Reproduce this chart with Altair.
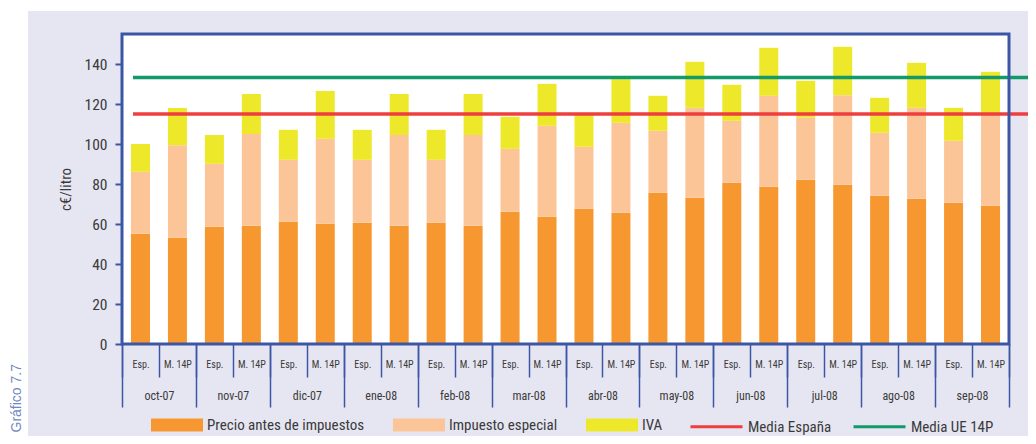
import altair as alt
import pandas as pd

# ---------------- data ----------------
meses = ["oct-07", "nov-07", "dic-07", "ene-08", "feb-08", "mar-08",
         "abr-08", "may-08", "jun-08", "jul-08", "ago-08", "sep-08"]
tipos = ["Esp.", "M. 14P"]

# segment heights (c€/litro), order: oct Esp, oct M14P, nov Esp, ...
precio = [55.1, 53.1, 58.6, 59.1, 61.1, 60.1, 60.6, 59.1, 60.6, 59.1, 66.1, 63.6,
          67.6, 65.6, 75.6, 73.1, 80.6, 78.6, 82.1, 79.6, 74.1, 72.6, 70.6, 69.1]
impuesto = [31.0, 46.3, 31.5, 45.9, 31.0, 42.5, 31.5, 45.4, 31.5, 45.4, 31.5, 45.5,
            31.0, 45.0, 31.0, 45.0, 31.0, 45.5, 31.1, 44.8, 31.5, 45.5, 31.0, 45.5]
iva = [13.9, 18.6, 14.4, 20.0, 15.0, 23.9, 15.0, 20.5, 15.0, 20.5, 16.0, 21.0,
       15.9, 21.8, 17.5, 23.0, 18.0, 24.0, 18.4, 24.2, 17.5, 22.5, 16.5, 21.5]

componentes = ["Precio antes de impuestos", "Impuesto especial", "IVA"]
colores_comp = ["#F7972F", "#FCC597", "#EEE82B"]

series = ["Media España", "Media UE 14P"]
medias = [115.0, 133.2]
colores_series = ["#EF3E3E", "#13996A"]

y_ticks = [0, 20, 40, 60, 80, 100, 120, 140]

# ---------------- styling ----------------
FONT = "Liberation Sans Narrow, Roboto Condensed, DejaVu Sans Condensed, sans-serif"
BLUE = "#3C56A6"
GRID = "#4A65B6"
LAV = "#E6E6F2"
TXT = "#3A3A3A"
W, H = 887, 310

# ---------------- tables ----------------
cats = [f"{m}|{t}" for m in meses for t in tipos]
rows = []
for i, c in enumerate(cats):
    for k, (comp, vals) in enumerate(zip(componentes, [precio, impuesto, iva])):
        rows.append({"cat": c, "componente": comp, "valor": vals[i], "ord": k})
df = pd.DataFrame(rows)
one = pd.DataFrame({"d": [0]})

yscale = alt.Scale(domain=[0, 155], nice=False, zero=True)
yaxis = alt.Axis(values=y_ticks, grid=False, domain=False, ticks=True,
                 tickSize=7, tickColor=BLUE, tickWidth=2,
                 labelFont=FONT, labelFontSize=15.5, labelColor=TXT,
                 labelPadding=8, title="c€/litro", titleFont=FONT,
                 titleFontSize=15, titleColor=TXT,
                 titleFontWeight="normal", titleX=-57, titleY=155,
                 titleAngle=270, titleAlign="center",
                 titleBaseline="middle", zindex=1)

bg = alt.Chart(one).mark_rect(color=LAV).encode(
    x=alt.value(-94), x2=alt.value(W + 19), y=alt.value(-23), y2=alt.value(H + 92))
plotbg = alt.Chart(one).mark_rect(color="white").encode(
    x=alt.value(0), x2=alt.value(W), y=alt.value(0), y2=alt.value(H))

grid = alt.Chart(pd.DataFrame({"valor": y_ticks[1:]})).mark_rule(
    color=GRID, strokeWidth=1.2).encode(
    y=alt.Y("valor:Q", scale=yscale, axis=yaxis))

legend_common = dict(orient="none", legendY=365, direction="horizontal",
                     title=None, labelFont=FONT, labelFontSize=15,
                     labelColor=TXT, labelOffset=4, labelLimit=0,
                     padding=0, zindex=1)

bars = alt.Chart(df).mark_bar(size=19).encode(
    x=alt.X("cat:N", sort=cats,
            scale=alt.Scale(paddingInner=0, paddingOuter=0),
            axis=alt.Axis(orient="bottom", title=None,
                          labelExpr="split(datum.label, '|')[1]",
                          labelAngle=0, domain=False, ticks=True,
                          tickBand="extent", tickSize=33, tickColor=BLUE,
                          tickWidth=1.5, labelFont=FONT, labelFontSize=10,
                          labelColor=TXT, labelPadding=-12.5,
                          labelBaseline="middle", labelOverlap=False, zindex=1)),
    y=alt.Y("valor:Q", stack="zero", scale=yscale, axis=yaxis),
    color=alt.Color("componente:N",
                    scale=alt.Scale(domain=componentes, range=colores_comp),
                    legend=alt.Legend(legendX=29, columnPadding=28,
                                      symbolType="M-1,-0.25H1V0.25H-1Z",
                                      symbolSize=2704, symbolStrokeWidth=0,
                                      **legend_common)),
    order=alt.Order("ord:Q"))

lines = alt.Chart(pd.DataFrame({"serie": series, "valor": medias})).mark_rule(
    strokeWidth=3.5).encode(
    y=alt.Y("valor:Q", scale=yscale, axis=yaxis),
    x=alt.value(11), x2=alt.value(W + 19),
    stroke=alt.Stroke("serie:N",
                      scale=alt.Scale(domain=series, range=colores_series),
                      legend=alt.Legend(legendX=567, columnPadding=15,
                                        symbolType="stroke", symbolSize=2704,
                                        symbolStrokeWidth=3,
                                        **legend_common)))

border = alt.Chart(one).mark_rect(fillOpacity=0, stroke=BLUE, strokeWidth=3).encode(
    x=alt.value(0), x2=alt.value(W), y=alt.value(0), y2=alt.value(H))

month_axis = alt.Chart(pd.DataFrame({"mes": meses})).mark_point(opacity=0).encode(
    x=alt.X("mes:N", sort=meses,
            scale=alt.Scale(paddingInner=0, paddingOuter=0),
            axis=alt.Axis(orient="bottom", title=None, labelAngle=0,
                          domain=False, ticks=True, tickBand="extent",
                          tickSize=63, tickColor=BLUE, tickWidth=1.5,
                          labelFont=FONT, labelFontSize=12, labelColor=TXT,
                          labelPadding=-11.5, labelBaseline="middle",
                          labelOverlap=False, zindex=1)),
    y=alt.value(0))

note = alt.Chart(one).mark_text(
    text="Gráfico 7.7", angle=270, align="right", baseline="middle",
    font="Liberation Sans, Arial, sans-serif", fontSize=14, color="#7088BF").encode(
    x=alt.value(-105), y=alt.value(330))

chart = alt.layer(grid, bg, plotbg, bars, lines, border, month_axis, note).resolve_scale(
    x="independent"
).properties(
    width=W, height=H,
    autosize=alt.AutoSizeParams(type="none"),
    padding={"left": 114, "top": 26, "right": 19, "bottom": 92},
    background="white",
).configure_view(strokeWidth=0)

chart.save("out.html", embed_options={"renderer": "svg", "actions": False})
